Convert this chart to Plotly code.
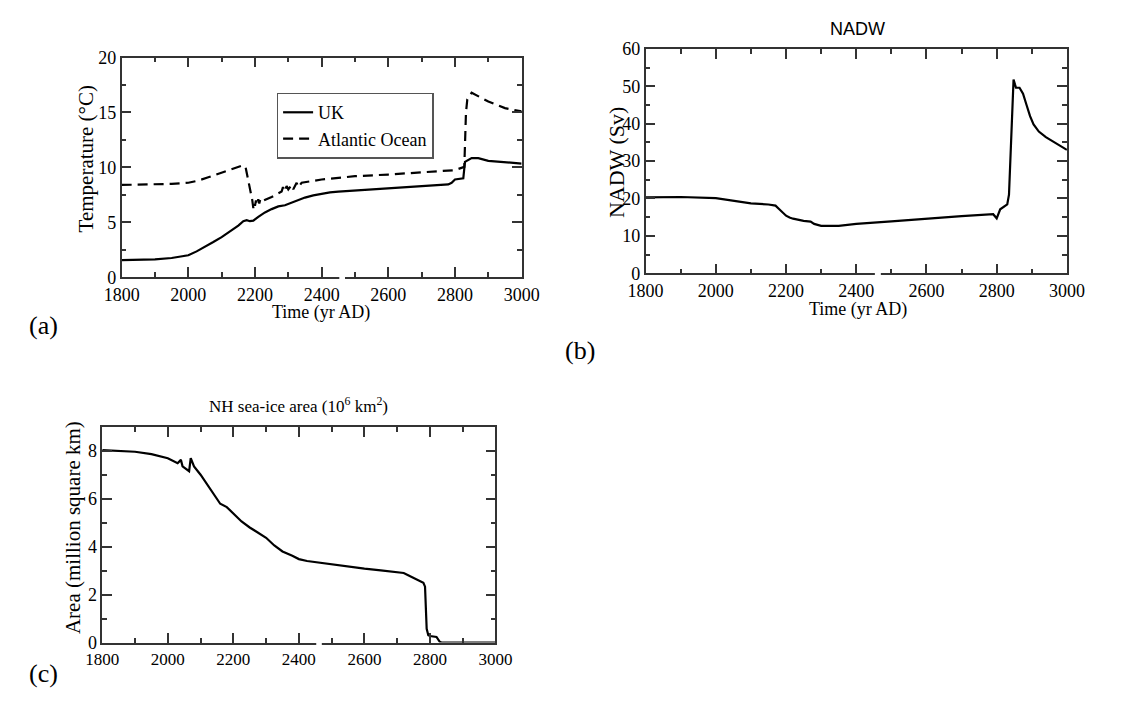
import plotly.graph_objects as go

# ---- Data ----
uk_year = [1800, 1850, 1900, 1950, 1975, 2000, 2025, 2050, 2075, 2100, 2125, 2150, 2165, 2175, 2185,
           2195, 2210, 2230, 2250, 2270, 2290, 2310, 2330, 2350, 2375, 2400, 2425, 2450, 2500, 2600,
           2700, 2780, 2790, 2800, 2825, 2830, 2850, 2870, 2900, 2950, 3000]
uk_temp = [1.55, 1.57, 1.62, 1.75, 1.85, 2.0, 2.35, 2.75, 3.2, 3.65, 4.15, 4.7, 5.1, 5.2, 5.1,
           5.15, 5.5, 5.9, 6.2, 6.45, 6.55, 6.8, 7.05, 7.25, 7.45, 7.6, 7.72, 7.8, 7.9, 8.1,
           8.3, 8.45, 8.6, 8.9, 9.0, 10.5, 10.85, 10.85, 10.6, 10.45, 10.35]

atl_year = [1800, 1900, 1950, 2000, 2030, 2060, 2100, 2130, 2165, 2172, 2185, 2192, 2195, 2198, 2200,
            2203, 2206, 2210, 2213, 2216, 2220, 2250, 2280, 2284, 2288, 2295, 2300, 2310, 2315,
            2325, 2330, 2340, 2400, 2500, 2600, 2700, 2800, 2828, 2833, 2837, 2850, 2875, 2900,
            2950, 3000]
atl_temp = [8.4, 8.45, 8.5, 8.6, 8.8, 9.1, 9.5, 9.8, 10.2, 10.0, 8.2, 7.0, 6.3, 6.8, 6.5,
            7.0, 6.6, 7.1, 6.7, 7.1, 6.9, 7.3, 7.8, 8.2, 7.8, 8.3, 8.0, 8.4, 8.0,
            8.6, 8.2, 8.6, 8.9, 9.2, 9.35, 9.55, 9.75, 10.05, 15.0, 16.2, 16.8, 16.4, 16.0,
            15.4, 15.1]

nadw_year = [1800, 1900, 2000, 2050, 2100, 2150, 2170, 2180, 2190, 2200, 2210, 2220, 2250, 2270,
             2280, 2300, 2350, 2400, 2500, 2600, 2700, 2790, 2800, 2810, 2830, 2835, 2848, 2852,
             2855, 2865, 2875, 2885, 2895, 2905, 2920, 2940, 2960, 2980, 3000]
nadw_sv = [20.3, 20.4, 20.1, 19.5, 18.7, 18.4, 18.1, 17.2, 16.2, 15.4, 14.9, 14.6, 14.0, 13.8,
           13.2, 12.7, 12.7, 13.2, 13.9, 14.7, 15.3, 15.8, 14.7, 17.1, 18.4, 21.0, 51.8, 50.5,
           49.6, 49.6, 48.0, 45.0, 42.0, 39.8, 37.9, 36.4, 35.2, 34.0, 33.0]

ice_year = [1800, 1900, 1950, 2000, 2030, 2040, 2045, 2065, 2070, 2080, 2100, 2115, 2130, 2145,
            2160, 2180, 2200, 2225, 2250, 2280, 2300, 2325, 2350, 2380, 2400, 2425, 2450, 2500,
            2600, 2650, 2700, 2720, 2735, 2750, 2765, 2780, 2785, 2790, 2795, 2800, 2820, 2830,
            2835, 3000]
ice_area = [8.03, 7.96, 7.86, 7.69, 7.48, 7.62, 7.35, 7.15, 7.69, 7.35, 7.0, 6.7, 6.4, 6.05,
            5.79, 5.65, 5.38, 5.05, 4.8, 4.53, 4.37, 4.05, 3.8, 3.62, 3.48, 3.4, 3.35, 3.25,
            3.08, 3.01, 2.94, 2.9, 2.8, 2.7, 2.62, 2.49, 2.33, 0.57, 0.3, 0.27, 0.23, 0.03,
            0.0, 0.0]

x_ticks = [1800, 2000, 2200, 2400, 2600, 2800, 3000]

W, H = 1144, 704
def px_x(v):
    return v / W
def px_y(v):
    return 1 - v / H

SERIF = "Liberation Serif"
SANS = "Liberation Sans"
AX = "#333333"
LW = 2.2

fig = go.Figure()
fig.add_trace(go.Scatter(x=uk_year, y=uk_temp, mode="lines", name="UK",
                         line=dict(color="black", width=LW), xaxis="x", yaxis="y"))
fig.add_trace(go.Scatter(x=atl_year, y=atl_temp, mode="lines", name="Atlantic Ocean",
                         line=dict(color="black", width=LW, dash="10px,6px"), xaxis="x", yaxis="y"))
fig.add_trace(go.Scatter(x=nadw_year, y=nadw_sv, mode="lines", showlegend=False,
                         line=dict(color="black", width=LW), xaxis="x2", yaxis="y2"))
fig.add_trace(go.Scatter(x=ice_year, y=ice_area, mode="lines", showlegend=False, cliponaxis=False,
                         line=dict(color="black", width=LW), xaxis="x3", yaxis="y3"))

def xax(domain, anchor):
    return dict(domain=domain, anchor=anchor, range=[1800, 3000], tickvals=x_ticks,
                ticks="inside", ticklen=10, tickwidth=1.5, tickcolor=AX,
                minor=dict(dtick=100, ticks="inside", ticklen=5, tickwidth=1.5, tickcolor=AX),
                showline=True, linecolor=AX, linewidth=1.5, mirror="ticks",
                showgrid=False, zeroline=False,
                tickfont=dict(family=SERIF, size=18, color="black"))

def yax(domain, anchor, rng, dtick, mdtick):
    return dict(domain=domain, anchor=anchor, range=rng, dtick=dtick, tick0=0,
                ticks="inside", ticklen=10, tickwidth=1.5, tickcolor=AX,
                minor=dict(dtick=mdtick, tick0=0, ticks="inside", ticklen=5, tickwidth=1.5, tickcolor=AX),
                showline=True, linecolor=AX, linewidth=1.5, mirror="ticks",
                showgrid=False, zeroline=False,
                tickfont=dict(family=SERIF, size=18, color="black"))

dom_a_x = [px_x(107), px_x(520)]; dom_a_y = [px_y(275), px_y(49)]
dom_b_x = [px_x(648), px_x(1083)]; dom_b_y = [px_y(271), px_y(40)]
dom_c_x = [px_x(87), px_x(493)]; dom_c_y = [px_y(651), px_y(429)]

fig.update_layout(
    width=W, height=H,
    margin=dict(l=0, r=0, t=0, b=0),
    paper_bgcolor="white", plot_bgcolor="white",
    xaxis=xax(dom_a_x, "y"), yaxis=yax(dom_a_y, "x", [0, 20], 5, 2.5),
    xaxis2=xax(dom_b_x, "y2"), yaxis2=yax(dom_b_y, "x2", [0, 60], 10, 5),
    xaxis3=xax(dom_c_x, "y3"), yaxis3=yax(dom_c_y, "x3", [0, 9], 2, 1),
    showlegend=True,
    legend=dict(x=px_x(267), y=px_y(85), xanchor="left", yanchor="top",
                bgcolor="white", bordercolor="#555555", borderwidth=1.5,
                font=dict(family=SERIF, size=18, color="black"),
                itemwidth=30, tracegroupgap=0),
)
fig.update_xaxes(tickfont=dict(size=17), selector=dict(anchor="y3"))

# white breaks in the bottom axis lines
for xa, ya in [("x", "y"), ("x2", "y2"), ("x3", "y3")]:
    fig.add_shape(type="rect", xref=xa, yref=ya + " domain", x0=2453, x1=2470, y0=-0.015, y1=0.015,
                  fillcolor="white", line=dict(width=0), layer="above")

ann = []
def add_text(text, x, y, size, family=SERIF, angle=0):
    ann.append(dict(text=text, x=px_x(x), y=px_y(y), xref="paper", yref="paper",
                    showarrow=False, textangle=angle, xanchor="center", yanchor="middle",
                    font=dict(family=family, size=size, color="black")))

add_text("Temperature (°C)", 70, 153, 21, angle=-90)
add_text("Time (yr AD)", 313, 311, 18)
add_text("NADW", 867, 20, 18, family=SANS)
add_text("NADW (Sv)", 618, 157, 22, angle=-90)
add_text("Time (yr AD)", 867, 308, 18)
add_text("NH sea-ice area (10<sup>6</sup> km<sup>2</sup>)", 290, 407, 17)
add_text("Area (million square km)", 57, 533, 21, angle=-90)
add_text("(a)", 26, 325, 26)
add_text("(b)", 580, 350, 26)
add_text("(c)", 26, 683, 26)
fig.update_layout(annotations=ann)

fig.write_html("out.html")
